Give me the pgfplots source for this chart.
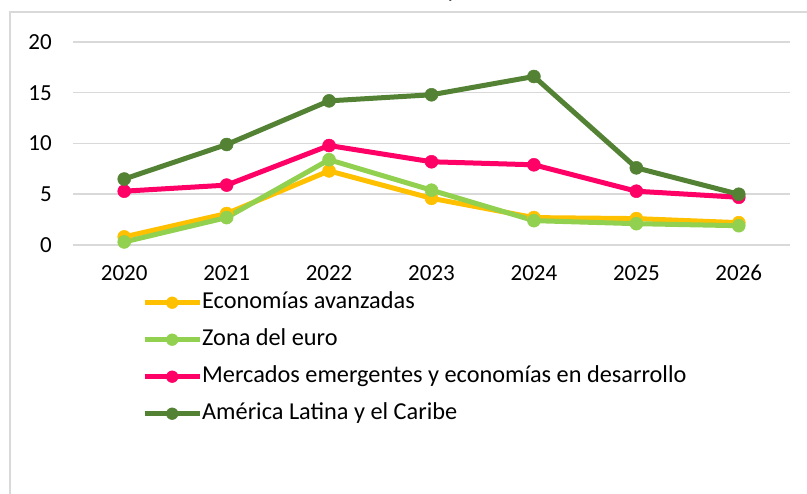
\documentclass[border=0pt]{standalone}
\usepackage{pgfplots}
\pgfplotsset{compat=1.18}
\usepackage{fontspec}
\setmainfont{Carlito}
\definecolor{cyel}{HTML}{FFC000}
\definecolor{clgr}{HTML}{92D050}
\definecolor{cpnk}{HTML}{FF0066}
\definecolor{cdgr}{HTML}{548235}
\definecolor{gridgray}{HTML}{D9D9D9}
\begin{document}
\fontsize{23}{27}\selectfont
\begin{tikzpicture}[x=1pt,y=1pt]
\useasboundingbox (0,0) rectangle (807,494);
\draw[color=gridgray, line width=1.5pt] (10,-5) -- (10,482) -- (812,482);
\node[anchor=base, inner sep=0pt] at (452,496) {y};
\begin{axis}[
  at={(73pt,249pt)}, anchor=south west, scale only axis,
  width=717pt, height=203pt,
  xmin=-0.5, xmax=6.5, ymin=0, ymax=20,
  ytick={0,5,10,15,20},
  xtick={0,1,2,3,4,5,6},
  xticklabels={2020,2021,2022,2023,2024,2025,2026},
  axis line style={draw=none}, major tick length=0pt,
  ymajorgrids, grid style={color=gridgray, line width=1.5pt},
  clip=false,
  tick label style={font=\fontsize{23}{27}\selectfont},
  /pgf/number format/assume math mode=true,
  yticklabel style={inner sep=0pt, anchor=east, xshift=-21pt},
  xticklabel style={inner sep=0pt, anchor=north, yshift=-20pt},
  every axis plot/.append style={line width=5pt, mark=*, mark size=6.5pt},
  legend image code/.code={\draw[mark repeat=2, mark phase=2, #1, line width=5pt, every mark/.append style={scale=0.9}] plot coordinates {(0pt,0pt) (27.5pt,0pt) (55pt,0pt)};},
  legend cell align=left,
  legend style={at={(0.0962,-0.2315)}, anchor=north west, draw=none, fill=none,
    font=\fontsize{24.3}{28}\selectfont,
    inner sep=0pt, row sep=16pt,
    nodes={inner sep=0pt, text height=16pt, text depth=5pt},
    /tikz/every even column/.append style={column sep=5pt}},
]
\addplot[color=cyel, mark options={fill=cyel, draw=cyel, line width=0.5pt}] coordinates {(0,0.8) (1,3.1) (2,7.3) (3,4.6) (4,2.7) (5,2.6) (6,2.2)};
\addlegendentry{Economías avanzadas}
\addplot[color=clgr, mark options={fill=clgr, draw=clgr, line width=0.5pt}] coordinates {(0,0.3) (1,2.7) (2,8.4) (3,5.4) (4,2.4) (5,2.1) (6,1.9)};
\addlegendentry{Zona del euro}
\addplot[color=cpnk, mark options={fill=cpnk, draw=cpnk, line width=0.5pt}] coordinates {(0,5.3) (1,5.9) (2,9.8) (3,8.2) (4,7.9) (5,5.3) (6,4.7)};
\addlegendentry{Mercados emergentes y economías en desarrollo}
\addplot[color=cdgr, mark options={fill=cdgr, draw=cdgr, line width=0.5pt}] coordinates {(0,6.5) (1,9.9) (2,14.2) (3,14.8) (4,16.6) (5,7.6) (6,5.0)};
\addlegendentry{América Latina y el Caribe}
\end{axis}
\end{tikzpicture}
\end{document}
